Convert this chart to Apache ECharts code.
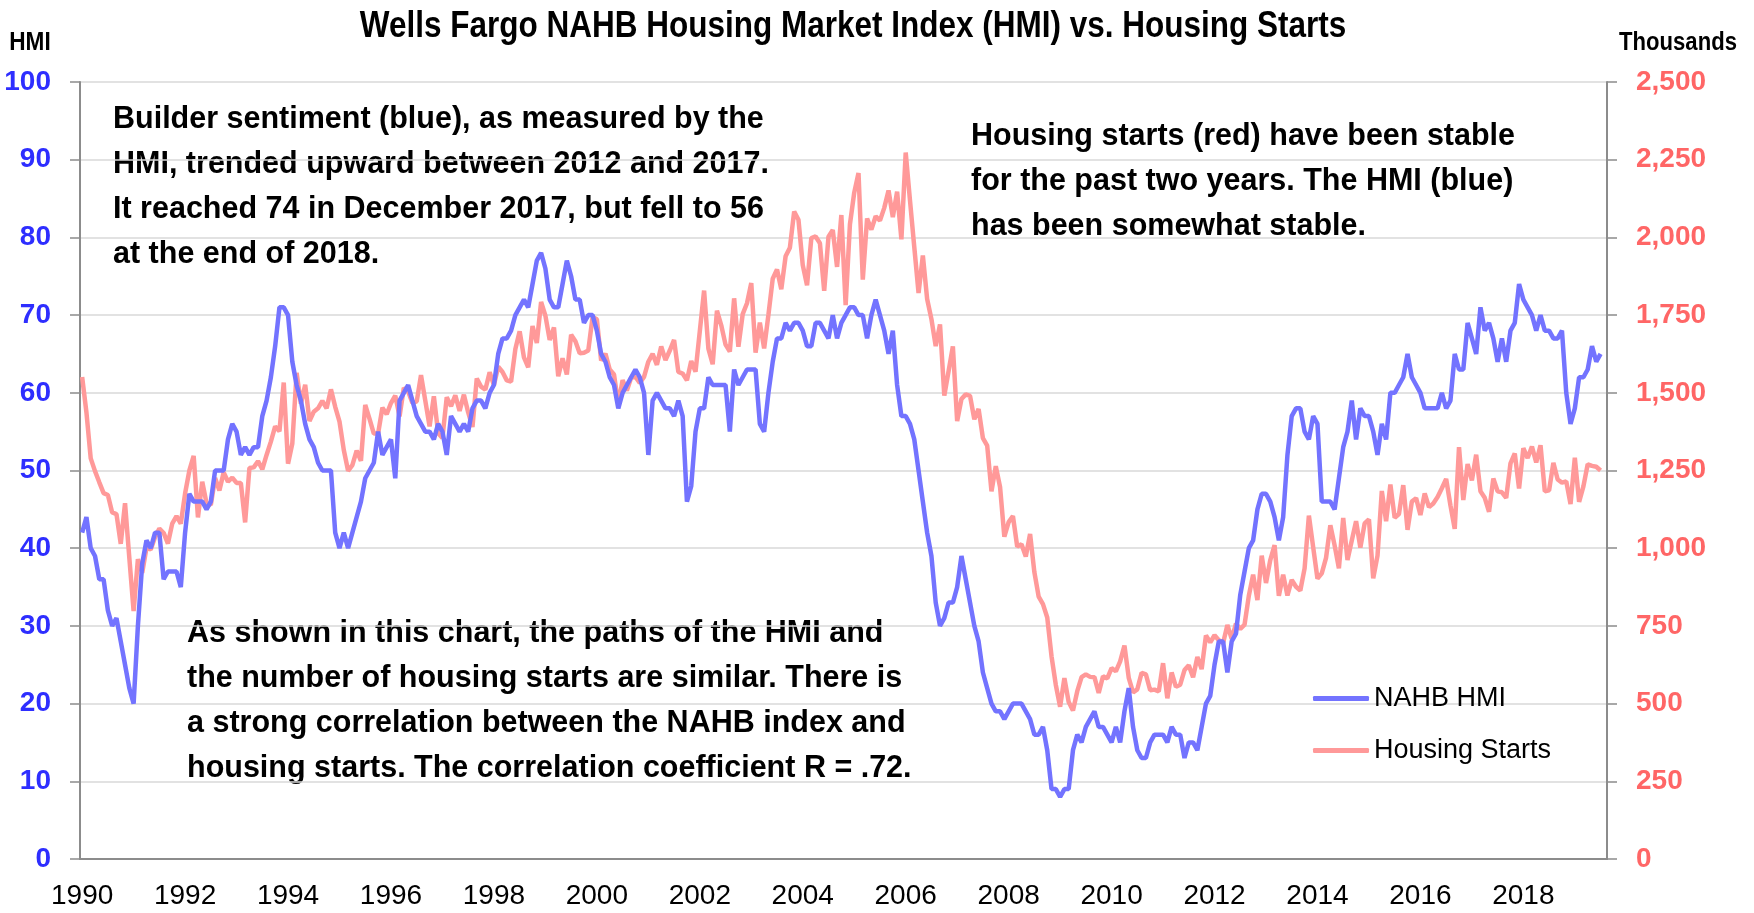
<!DOCTYPE html>
<html>
<head>
<meta charset="utf-8">
<title>Wells Fargo NAHB Housing Market Index (HMI) vs. Housing Starts</title>
<script src="https://cdn.jsdelivr.net/npm/echarts@6/dist/echarts.min.js"></script>
<style>
  html, body { margin: 0; padding: 0; background: #fff; }
  #chart { width: 1754px; height: 913px; }
</style>
</head>
<body>
<div id="chart"></div>
<script>
// monthly values, Jan 1990 - Jul 2019 (one row per year)
const hmi = [
  42, 44, 40, 39, 36, 36, 32, 30, 31, 28, 25, 22,
  20, 30, 38, 41, 40, 42, 42, 36, 37, 37, 37, 35,
  42, 47, 46, 46, 46, 45, 46, 50, 50, 50, 54, 56,
  55, 52, 53, 52, 53, 53, 57, 59, 62, 66, 71, 71,
  70, 64, 61, 59, 56, 54, 53, 51, 50, 50, 50, 42,
  40, 42, 40, 42, 44, 46, 49, 50, 51, 55, 52, 53,
  54, 49, 59, 60, 61, 59, 57, 56, 55, 55, 54, 56,
  55, 52, 57, 56, 55, 56, 55, 58, 59, 59, 58, 60,
  61, 65, 67, 67, 68, 70, 71, 72, 71, 74, 77, 78,
  76, 72, 71, 71, 74, 77, 75, 72, 72, 69, 70, 70,
  68, 65, 64, 62, 61, 58, 60, 61, 62, 63, 62, 60,
  52, 59, 60, 59, 58, 58, 57, 59, 57, 46, 48, 55,
  58, 58, 62, 61, 61, 61, 61, 55, 63, 61, 62, 63,
  63, 63, 56, 55, 60, 64, 67, 67, 69, 68, 69, 69,
  68, 66, 66, 69, 69, 68, 67, 70, 67, 69, 70, 71,
  71, 70, 70, 67, 70, 72, 70, 68, 65, 68, 61, 57,
  57, 56, 54, 50, 46, 42, 39, 33, 30, 31, 33, 33,
  35, 39, 36, 33, 30, 28, 24, 22, 20, 19, 19, 18,
  19, 20, 20, 20, 19, 18, 16, 16, 17, 14, 9, 9,
  8, 9, 9, 14, 16, 15, 17, 18, 19, 17, 17, 16,
  15, 17, 15, 19, 22, 17, 14, 13, 13, 15, 16, 16,
  16, 15, 17, 16, 16, 13, 15, 15, 14, 17, 20, 21,
  25, 28, 28, 24, 28, 29, 34, 37, 40, 41, 45, 47,
  47, 46, 44, 41, 44, 52, 57, 58, 58, 55, 54, 57,
  56, 46, 46, 46, 45, 49, 53, 55, 59, 54, 58, 57,
  57, 55, 52, 56, 54, 60, 60, 61, 62, 65, 62, 61,
  60, 58, 58, 58, 58, 60, 58, 59, 65, 63, 63, 69,
  67, 65, 71, 68, 69, 67, 64, 67, 64, 68, 69, 74,
  72, 71, 70, 68, 70, 68, 68, 67, 67, 68, 60, 56,
  58, 62, 62, 63, 66, 64, 65
]

// housing starts, thousands of units (SAAR)
const starts = [
  1551, 1437, 1289, 1248, 1212, 1177, 1171, 1115, 1110, 1014, 1145, 969,
  798, 965, 921, 1001, 996, 1036, 1063, 1049, 1015, 1079, 1103, 1079,
  1176, 1250, 1297, 1099, 1214, 1145, 1139, 1226, 1186, 1244, 1214, 1227,
  1210, 1210, 1083, 1258, 1260, 1280, 1254, 1300, 1343, 1392, 1376, 1533,
  1272, 1337, 1564, 1465, 1526, 1409, 1439, 1450, 1474, 1450, 1511, 1455,
  1407, 1316, 1249, 1267, 1314, 1281, 1461, 1416, 1369, 1369, 1452, 1431,
  1467, 1491, 1424, 1516, 1504, 1467, 1472, 1557, 1475, 1392, 1489, 1370,
  1355, 1486, 1457, 1492, 1442, 1494, 1437, 1390, 1546, 1520, 1510, 1566,
  1525, 1584, 1567, 1540, 1536, 1641, 1698, 1614, 1582, 1715, 1660, 1792,
  1748, 1670, 1710, 1553, 1611, 1559, 1687, 1666, 1627, 1629, 1636, 1744,
  1737, 1604, 1626, 1575, 1559, 1463, 1541, 1507, 1549, 1551, 1532, 1551,
  1600, 1625, 1590, 1649, 1605, 1636, 1670, 1567, 1562, 1540, 1602, 1568,
  1698, 1829, 1642, 1592, 1764, 1717, 1655, 1633, 1804, 1648, 1753, 1788,
  1853, 1629, 1726, 1643, 1751, 1867, 1897, 1833, 1939, 1967, 2083, 2057,
  1911, 1846, 1998, 2003, 1981, 1828, 2002, 2024, 1905, 2072, 1782, 2042,
  2144, 2207, 1864, 2061, 2025, 2068, 2054, 2095, 2151, 2065, 2147, 1994,
  2273, 2119, 1969, 1821, 1942, 1802, 1737, 1650, 1720, 1491, 1570, 1649,
  1409, 1480, 1495, 1490, 1415, 1448, 1354, 1330, 1183, 1264, 1197, 1037,
  1084, 1103, 1005, 1013, 973, 1046, 923, 844, 820, 777, 652, 560,
  490, 582, 505, 478, 540, 585, 594, 586, 585, 534, 588, 581,
  614, 604, 636, 687, 583, 536, 546, 599, 594, 543, 545, 539,
  630, 517, 600, 554, 561, 608, 623, 585, 650, 611, 719, 697,
  720, 704, 695, 753, 708, 757, 740, 754, 847, 915, 833, 976,
  888, 962, 1010, 847, 915, 848, 898, 876, 864, 935, 1105, 1003,
  902, 919, 969, 1074, 1009, 935, 1097, 962, 1025, 1087, 1002, 1080,
  1093, 903, 976, 1184, 1087, 1205, 1098, 1110, 1203, 1059, 1150, 1161,
  1107, 1176, 1132, 1144, 1165, 1193, 1223, 1138, 1062, 1325, 1155, 1271,
  1218, 1301, 1183, 1162, 1117, 1224, 1183, 1180, 1162, 1273, 1305, 1192,
  1322, 1290, 1327, 1276, 1331, 1183, 1186, 1275, 1221, 1211, 1215, 1142,
  1291, 1149, 1199, 1270, 1265, 1262, 1250
]

const seriesNames = ['NAHB HMI', 'Housing Starts']

// axis runs one month past the data (Jan 1990 - Aug 2019)
const months = []
for (let y = 1990; y <= 2019; y++) {
  for (let m = 1; m <= 12; m++) {
    if (y === 2019 && m > 8) break
    months.push(y + '-' + (m < 10 ? '0' + m : m))
  }
}

const notes = {
  sentiment: 'Builder sentiment (blue), as measured by the\nHMI, trended upward between 2012 and 2017.\nIt reached 74 in December 2017, but fell to 56\nat the end of 2018.',
  stable: 'Housing starts (red) have been stable\nfor the past two years. The HMI (blue)\nhas been somewhat stable.',
  correlation: 'As shown in this chart, the paths of the HMI and\nthe number of housing starts are similar. There is\na strong correlation between the NAHB index and\nhousing starts. The correlation coefficient R = .72.'
}

const SANS = '"Liberation Sans", Arial, sans-serif'
const BLUE = '#7373ff'
const RED = '#ff9999'
const AXIS = '#8c8c8c'
const everyTwoYears = (i) => i % 24 === 0

// no condensed face is installed, so headings are squeezed horizontally
function heading(text, x, y, size, squeeze) {
  return {
    type: 'text', x: x, y: y, scaleX: squeeze,
    style: {
      text: text, fill: '#000', fontFamily: SANS, fontWeight: 'bold', fontSize: size,
      textAlign: 'center', textVerticalAlign: 'middle'
    }
  }
}

function note(text, x, y) {
  return {
    type: 'text', x: x, y: y,
    style: {
      text: text, fill: '#000', fontFamily: SANS, fontWeight: 'bold',
      fontSize: 30.5, lineHeight: 45, textVerticalAlign: 'top'
    }
  }
}

const chart = echarts.init(document.getElementById('chart'))

chart.setOption({
  animation: false,
  backgroundColor: '#fff',
  grid: { left: 80, right: 147, top: 82, bottom: 54 },
  graphic: [
    heading('Wells Fargo NAHB Housing Market Index (HMI) vs. Housing Starts', 853, 27, 36, 0.875),
    heading('HMI', 30, 43, 26, 0.87),
    heading('Thousands', 1678, 43, 26, 0.85),
    note(notes.sentiment, 113, 97),
    note(notes.stable, 971, 114),
    note(notes.correlation, 187, 611)
  ],
  legend: {
    orient: 'vertical',
    left: 1308,
    top: 680,
    icon: 'roundRect',
    itemWidth: 56,
    itemHeight: 5,
    itemGap: 25,
    textStyle: { fontFamily: SANS, fontSize: 27, color: '#000' },
    data: seriesNames
  },
  xAxis: {
    type: 'category',
    data: months,
    boundaryGap: true,
    axisLine: { lineStyle: { color: AXIS, width: 2 } },
    axisTick: { interval: everyTwoYears, length: 10, lineStyle: { color: AXIS, width: 1.5 } },
    axisLabel: {
      interval: everyTwoYears,
      formatter: (v) => v.slice(0, 4),
      fontFamily: SANS, fontSize: 28, color: '#000', margin: 23
    },
    splitLine: { show: false }
  },
  yAxis: [
    {
      type: 'value', position: 'left', min: 0, max: 100, interval: 10,
      axisLine: { show: true, lineStyle: { color: AXIS, width: 2 } },
      axisTick: { show: true, length: 10, lineStyle: { color: AXIS, width: 1.5 } },
      axisLabel: { fontFamily: SANS, fontWeight: 'bold', fontSize: 28, color: '#2e2eff', margin: 29 },
      splitLine: { show: true, lineStyle: { color: '#d9d9d9', width: 1.5 } }
    },
    {
      type: 'value', position: 'right', min: 0, max: 2500, interval: 250,
      axisLine: { show: true, lineStyle: { color: AXIS, width: 2 } },
      axisTick: { show: true, length: 10, lineStyle: { color: AXIS, width: 1.5 } },
      axisLabel: {
        formatter: (v) => v.toLocaleString('en-US'),
        fontFamily: SANS, fontWeight: 'bold', fontSize: 28, color: '#ff6666', margin: 29
      },
      splitLine: { show: false }
    }
  ],
  series: [
    {
      name: seriesNames[0],
      type: 'line',
      yAxisIndex: 0,
      data: hmi,
      showSymbol: false,
      itemStyle: { color: BLUE },
      lineStyle: { color: BLUE, width: 4.5 },
      z: 3
    },
    {
      name: seriesNames[1],
      type: 'line',
      yAxisIndex: 1,
      data: starts,
      showSymbol: false,
      itemStyle: { color: RED },
      lineStyle: { color: RED, width: 4.5 },
      z: 2
    }
  ]
})
</script>
</body>
</html>
